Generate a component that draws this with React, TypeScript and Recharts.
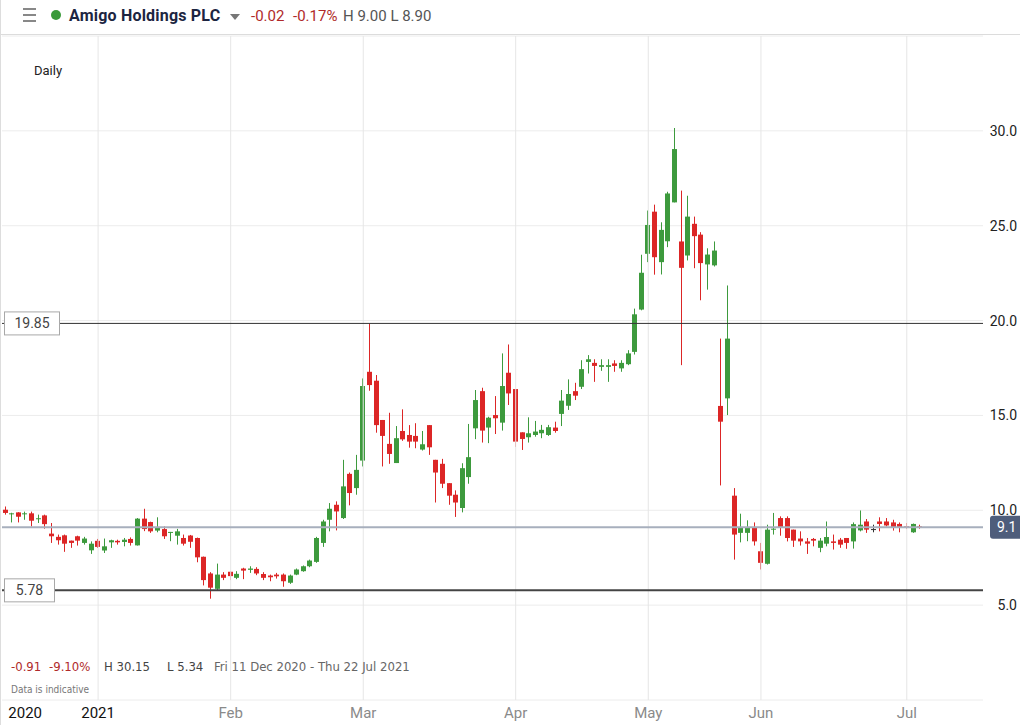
import { ComposedChart, Bar, XAxis, YAxis, CartesianGrid, ReferenceLine } from 'recharts';

// trading days shown on the chart (last ones are empty room on the right)
const dates = [
  '2020-12-11', '2020-12-14', '2020-12-15', '2020-12-16', '2020-12-17', '2020-12-18', '2020-12-21', '2020-12-22',
  '2020-12-23', '2020-12-24', '2020-12-28', '2020-12-29', '2020-12-30', '2020-12-31',
  '2021-01-04', '2021-01-05', '2021-01-06', '2021-01-07', '2021-01-08', '2021-01-11', '2021-01-12', '2021-01-13',
  '2021-01-14', '2021-01-15', '2021-01-18', '2021-01-19', '2021-01-20', '2021-01-21', '2021-01-22', '2021-01-25',
  '2021-01-26', '2021-01-27', '2021-01-28', '2021-01-29',
  '2021-02-01', '2021-02-02', '2021-02-03', '2021-02-04', '2021-02-05', '2021-02-08', '2021-02-09', '2021-02-10',
  '2021-02-11', '2021-02-12', '2021-02-15', '2021-02-16', '2021-02-17', '2021-02-18', '2021-02-19', '2021-02-22',
  '2021-02-23', '2021-02-24', '2021-02-25', '2021-02-26',
  '2021-03-01', '2021-03-02', '2021-03-03', '2021-03-04', '2021-03-05', '2021-03-08', '2021-03-09', '2021-03-10',
  '2021-03-11', '2021-03-12', '2021-03-15', '2021-03-16', '2021-03-17', '2021-03-18', '2021-03-19', '2021-03-22',
  '2021-03-23', '2021-03-24', '2021-03-25', '2021-03-26', '2021-03-29', '2021-03-30', '2021-03-31',
  '2021-04-01', '2021-04-06', '2021-04-07', '2021-04-08', '2021-04-09', '2021-04-12', '2021-04-13', '2021-04-14',
  '2021-04-15', '2021-04-16', '2021-04-19', '2021-04-20', '2021-04-21', '2021-04-22', '2021-04-23', '2021-04-26',
  '2021-04-27', '2021-04-28', '2021-04-29', '2021-04-30',
  '2021-05-04', '2021-05-05', '2021-05-06', '2021-05-07', '2021-05-10', '2021-05-11', '2021-05-12', '2021-05-13',
  '2021-05-14', '2021-05-17', '2021-05-18', '2021-05-19', '2021-05-20', '2021-05-21', '2021-05-24', '2021-05-25',
  '2021-05-26',
  '2021-06-01', '2021-06-02', '2021-06-03', '2021-06-04', '2021-06-07', '2021-06-08', '2021-06-09', '2021-06-10',
  '2021-06-11', '2021-06-14', '2021-06-15', '2021-06-16', '2021-06-17', '2021-06-18', '2021-06-21', '2021-06-22',
  '2021-06-23', '2021-06-24', '2021-06-25', '2021-06-28', '2021-06-29', '2021-06-30',
  '2021-07-01', '2021-07-02', '2021-07-05', '2021-07-06', '2021-07-07', '2021-07-08', '2021-07-09', '2021-07-12',
  '2021-07-13', '2021-07-14', '2021-07-15', '2021-07-16',
];

const opens = [
  10.03, 9.80, 9.89, 9.80, 9.84, 9.53, 9.73, 8.77, 8.60, 8.68, 8.40, 8.63, 8.28, 7.89,
  8.39, 7.88, 8.31, 8.39, 8.33, 8.49, 8.15, 9.56, 9.38, 8.93, 9.01, 8.81, 8.66, 8.54, 8.67, 8.54, 7.55, 6.67, 5.86, 6.61,
  6.76, 6.44, 6.93, 6.86, 6.91, 6.64, 6.56, 6.61, 6.61, 6.18, 6.61, 6.79, 7.05, 7.28, 8.28, 9.50, 10.29, 9.59, 11.92, 11.17,
  12.62, 17.30, 16.83, 14.76, 13.50, 12.49, 14.18, 13.97, 13.92, 13.20, 14.49, 12.66, 12.45, 11.43, 10.82, 10.12, 11.75,
  14.32, 16.28, 14.36, 15.02, 14.62, 17.25,
  16.39, 14.11, 13.85, 13.97, 14.06, 13.97, 14.36, 15.08, 15.51, 16.28, 16.51, 17.82, 17.77, 17.56, 17.56, 17.74, 17.48,
  17.70, 18.35, 20.58,
  23.52, 25.74, 23.08, 24.18, 26.23, 24.17, 23.43, 25.10, 24.53, 22.96, 22.91, 15.50, 15.90, 10.77, 8.81, 8.81, 9.12,
  7.84, 7.18, 8.98, 9.59, 9.59, 8.98, 8.51, 8.36, 8.49, 8.02, 8.24, 8.36, 8.45, 8.54, 8.36, 8.94, 9.41, 9.01, 9.41, 9.41,
  9.36, 9.28,
  9.15, 8.84, 9.15,
];
const highs = [
  10.20, 9.87, 9.90, 9.93, 9.93, 9.77, 9.77, 9.33, 8.72, 8.72, 8.40, 8.66, 8.60, 8.36,
  8.49, 8.51, 8.45, 8.45, 8.54, 8.57, 9.59, 10.08, 9.40, 9.63, 9.15, 8.86, 9.02, 8.72, 8.70, 8.56, 7.56, 6.74, 7.19, 6.74,
  6.79, 6.79, 6.97, 7.05, 7.00, 6.74, 6.61, 6.70, 6.67, 6.61, 6.93, 7.09, 7.40, 8.60, 9.50, 10.38, 10.47, 12.66, 11.99, 12.92,
  16.95, 19.84, 17.13, 14.76, 15.14, 14.44, 15.32, 14.49, 14.59, 14.18, 14.49, 12.66, 12.71, 11.43, 11.05, 12.48, 14.55,
  16.34, 16.46, 14.93, 16.02, 18.27, 18.74,
  16.39, 14.11, 14.90, 14.71, 14.50, 14.50, 14.67, 16.34, 16.90, 16.72, 17.91, 18.18, 17.96, 17.96, 17.96, 17.91, 17.91,
  18.44, 20.63, 23.47,
  25.80, 26.11, 25.18, 26.79, 30.15, 26.85, 26.58, 25.48, 24.66, 23.81, 24.17, 19.05, 21.85, 11.17, 9.82, 9.47, 9.36,
  8.28, 9.24, 9.86, 9.68, 9.68, 8.98, 8.89, 8.54, 8.54, 8.54, 9.41, 8.72, 8.54, 8.54, 9.36, 9.99, 9.54, 9.24, 9.63, 9.59,
  9.50, 9.36,
  9.33, 9.30, 9.24,
];
const lows = [
  9.77, 9.36, 9.36, 9.50, 9.15, 9.33, 9.03, 8.28, 8.19, 7.81, 8.02, 8.14, 8.19, 7.70,
  8.02, 7.75, 8.02, 8.19, 8.10, 8.14, 8.14, 8.90, 8.81, 8.84, 8.49, 8.37, 8.19, 8.14, 8.02, 7.26, 6.04, 5.34, 5.79, 6.32,
  6.32, 6.37, 6.37, 6.70, 6.58, 6.32, 6.26, 6.40, 5.97, 6.12, 6.58, 6.76, 7.00, 7.23, 8.07, 8.89, 8.94, 9.54, 10.26, 10.82,
  12.31, 16.30, 14.09, 12.31, 12.45, 12.49, 13.66, 13.30, 13.27, 13.15, 12.92, 10.41, 11.17, 10.29, 9.65, 9.89, 11.40,
  13.75, 13.57, 13.54, 14.02, 14.20, 15.55,
  13.34, 13.18, 13.57, 13.88, 13.80, 13.92, 14.09, 14.44, 15.29, 15.81, 16.39, 17.21, 16.77, 17.35, 16.77, 17.30, 17.30,
  17.65, 18.21, 20.54,
  23.08, 22.42, 22.43, 23.87, 26.23, 17.65, 23.17, 22.76, 21.07, 21.63, 22.85, 11.31, 15.02, 7.40, 8.31, 8.37, 8.14,
  6.88, 7.14, 8.72, 8.66, 8.36, 8.07, 8.14, 7.70, 8.10, 7.79, 8.10, 7.93, 8.02, 7.97, 7.98, 8.89, 8.81, 8.84, 8.89, 9.15,
  8.93, 8.84,
  9.01, 8.81, 9.03,
];
const closes = [
  9.86, 9.84, 9.66, 9.84, 9.45, 9.58, 9.27, 8.63, 8.42, 8.24, 8.28, 8.40, 8.51, 8.24,
  8.07, 8.10, 8.42, 8.31, 8.45, 8.28, 9.56, 9.01, 8.89, 9.10, 8.63, 8.86, 8.89, 8.24, 8.34, 7.52, 6.32, 5.92, 6.61, 6.44,
  6.53, 6.65, 6.82, 6.93, 6.67, 6.44, 6.47, 6.52, 6.26, 6.56, 6.88, 7.05, 7.35, 8.54, 9.41, 10.08, 9.94, 11.26, 10.91, 12.13,
  16.55, 16.60, 14.49, 13.92, 12.97, 13.80, 13.74, 13.62, 13.62, 13.48, 13.32, 11.99, 11.40, 10.77, 10.41, 12.22, 12.80,
  15.81, 14.20, 14.88, 14.85, 16.55, 16.16,
  13.62, 13.76, 14.06, 14.15, 14.24, 14.38, 14.18, 15.78, 16.13, 16.04, 17.44, 17.96, 17.61, 17.65, 17.65, 17.61, 17.77,
  18.27, 20.33, 22.52,
  25.04, 23.34, 24.78, 26.70, 29.04, 22.78, 25.48, 24.45, 23.03, 23.48, 23.69, 14.67, 19.05, 8.72, 9.10, 9.10, 8.36,
  7.23, 8.98, 9.03, 9.07, 8.54, 8.40, 8.36, 8.24, 8.40, 8.40, 8.59, 8.28, 8.19, 8.28, 9.27, 9.24, 8.98, 9.01, 9.28, 9.20,
  9.12, 9.07,
  9.10, 9.28, 9.07,
];

const priceTicks = [5, 10, 15, 20, 25, 30];
const monthStarts = ['2021-01-04', '2021-02-01', '2021-03-01', '2021-04-01', '2021-05-04', '2021-06-01', '2021-07-01'];
const axisLabels: Record<string, string> = {
  '2020-12-16': '2020',
  '2021-01-04': '2021',
  '2021-02-01': 'Feb',
  '2021-03-01': 'Mar',
  '2021-04-01': 'Apr',
  '2021-05-04': 'May',
  '2021-06-01': 'Jun',
  '2021-07-01': 'Jul',
};
const resistance = 19.85;
const support = 5.78;
const lastPrice = 9.1;

const GREEN = '#3d9a3d';
const RED = '#dc2626';
const NARROW = "'Liberation Sans Narrow', 'DejaVu Sans Condensed', Roboto, sans-serif";

const rows = dates.map((date, i) =>
  opens[i] == null
    ? { date }
    : { date, open: opens[i], high: highs[i], low: lows[i], close: closes[i], range: [lows[i], highs[i]] }
);

const Candle = (props: any) => {
  const { x, y, width, height, payload } = props;
  if (!payload || payload.open == null) return null;
  const { open, close, high, low } = payload;
  const ratio = height / (high - low);
  const yOf = (v: number) => y + (high - v) * ratio;
  const color = close > open ? GREEN : close < open ? RED : '#333';
  const top = yOf(Math.max(open, close));
  const bottom = yOf(Math.min(open, close));
  const cx = Math.round(x + width / 2) - 0.5;
  return (
    <g>
      <line x1={cx} x2={cx} y1={y} y2={y + height} stroke={color} strokeWidth={1} />
      <rect x={cx - 2.5} y={top} width={5} height={Math.max(bottom - top, 1)} fill={color} />
    </g>
  );
};

const PriceTick = ({ y, payload }: any) => (
  <text x={1017} y={y} dy={5} textAnchor="end" fontSize={14} fill="#222">
    {Number(payload.value).toFixed(1)}
  </text>
);

const DateTick = ({ x, payload }: any) => {
  const label = axisLabels[payload.value];
  const isYear = label === '2020' || label === '2021';
  return (
    <text x={x} y={718} textAnchor="middle" fontSize={15} fill={isYear ? '#111' : '#8a8a8a'}>
      {label}
    </text>
  );
};

// boxed price tag on the left edge
const LevelTag = ({ viewBox, text, w }: any) => {
  const y = viewBox.y;
  return (
    <g>
      <rect x={4.5} y={y - 11.5} width={w} height={23} fill="#fff" stroke="#a8a8a8" />
      <text x={4.5 + w / 2} y={y + 5} textAnchor="middle" fontSize={14} fill="#444">{text}</text>
    </g>
  );
};

const LastTag = ({ viewBox }: any) => {
  const y = viewBox.y;
  return (
    <g>
      <rect x={990} y={y - 11.5} width={34} height={23} rx={3} fill="#4e5d7b" />
      <text x={997} y={y + 5} fontSize={14} fill="#fff">{lastPrice}</text>
    </g>
  );
};

export default function App() {
  return (
    <div style={{ position: 'absolute', top: 0, left: 0, width: 1020, height: 725, background: '#fff', overflow: 'hidden', fontFamily: 'Roboto, sans-serif', borderLeft: '1px solid #ddd', boxSizing: 'border-box' }}>
      <ComposedChart
        width={1020}
        height={725}
        data={rows}
        margin={{ top: 36, right: 0, left: 2, bottom: 0 }}
        style={{ position: 'absolute', top: 0, left: -1 }}
      >
        <CartesianGrid vertical={false} stroke="#ececec" />
        {monthStarts.map(d => (
          <ReferenceLine key={d} x={d} stroke="#e6e6e6" />
        ))}
        <XAxis
          dataKey="date"
          ticks={Object.keys(axisLabels)}
          interval={0}
          height={25}
          axisLine={false}
          tickLine={false}
          tick={<DateTick />}
        />
        <YAxis
          orientation="right"
          domain={[0, 35]}
          ticks={priceTicks}
          width={37}
          axisLine={false}
          tickLine={false}
          tick={<PriceTick />}
        />
        <ReferenceLine y={lastPrice} stroke="#a7afbd" strokeWidth={2} label={<LastTag />} />
        <ReferenceLine y={resistance} stroke="#333" strokeWidth={1} label={<LevelTag text="19.85" w={55} />} />
        <ReferenceLine y={support} stroke="#444" strokeWidth={2} label={<LevelTag text="5.78" w={50} />} />
        <Bar dataKey="range" barSize={5} shape={<Candle />} isAnimationActive={false} />
      </ComposedChart>

      {/* header */}
      <div style={{ position: 'absolute', top: 0, left: 0, width: 1020, height: 34, borderBottom: '1px solid #dcdcdc', background: '#fff' }}>
        {[8, 14, 20].map(t => (
          <div key={t} style={{ position: 'absolute', left: 22, top: t, width: 13, height: 2, background: '#888' }} />
        ))}
        <div style={{ position: 'absolute', left: 50, top: 10, width: 10, height: 10, borderRadius: '50%', background: '#3a9a3a' }} />
        <div style={{ position: 'absolute', left: 68, top: 6, fontSize: 16, fontWeight: 700, color: '#1c2541', letterSpacing: 0.2 }}>Amigo Holdings PLC</div>
        <div style={{ position: 'absolute', left: 229, top: 14, width: 0, height: 0, borderLeft: '5px solid transparent', borderRight: '5px solid transparent', borderTop: '6px solid #777' }} />
        <div style={{ position: 'absolute', left: 250, top: 7, fontSize: 15, color: '#b02a2a' }}>-0.02</div>
        <div style={{ position: 'absolute', left: 292, top: 7, fontSize: 15, color: '#b02a2a' }}>-0.17%</div>
        <div style={{ position: 'absolute', left: 342, top: 7, fontSize: 15, color: '#555' }}>H 9.00 L 8.90</div>
      </div>

      <div style={{ position: 'absolute', left: 33, top: 63, fontSize: 13, color: '#222' }}>Daily</div>

      {/* period summary */}
      <div style={{ position: 'absolute', top: 659, left: 0, fontSize: 13, fontFamily: NARROW, whiteSpace: 'nowrap' }}>
        <span style={{ position: 'absolute', left: 10, color: '#b02a2a' }}>-0.91</span>
        <span style={{ position: 'absolute', left: 48, color: '#b02a2a' }}>-9.10%</span>
        <span style={{ position: 'absolute', left: 103, color: '#444' }}>H 30.15</span>
        <span style={{ position: 'absolute', left: 166, color: '#444' }}>L 5.34</span>
        <span style={{ position: 'absolute', left: 213, color: '#666' }}>Fri 11 Dec 2020 - Thu 22 Jul 2021</span>
      </div>
      <div style={{ position: 'absolute', left: 10, top: 684, fontSize: 10, color: '#777', fontFamily: NARROW }}>
        Data is indicative
      </div>
    </div>
  );
}
